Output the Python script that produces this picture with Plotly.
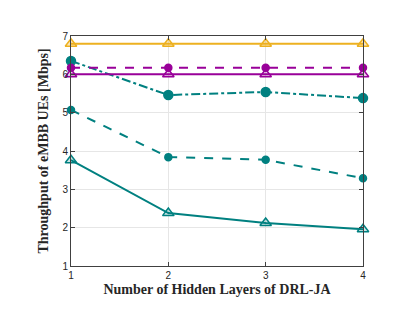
import plotly.graph_objects as go

x = [1, 2, 3, 4]
orange_tri = [6.8, 6.8, 6.8, 6.8]
purple_dot = [6.17, 6.17, 6.17, 6.17]
purple_tri = [6.0, 6.0, 6.0, 6.0]
teal_dashdot = [6.35, 5.46, 5.54, 5.38]
teal_dash = [5.07, 3.84, 3.77, 3.29]
teal_solid = [3.76, 2.38, 2.12, 1.96]

ORANGE = "#EDB120"
PURPLE = "#990099"
TEAL = "#008080"

fig = go.Figure()

def add(y, color, dash, symbol, size, fill, width=2):
    fig.add_trace(go.Scatter(
        x=x, y=y, mode="lines+markers", cliponaxis=False,
        line=dict(color=color, dash=dash, width=width),
        marker=dict(symbol=symbol, size=size, color=fill,
                    line=dict(color=color, width=1.5)),
        showlegend=False))

add(teal_solid, TEAL, "solid", "triangle-up", 10, "rgba(0,128,128,0.2)")
add(teal_dash, TEAL, "dash", "circle", 7, TEAL)
add(teal_dashdot, TEAL, "dashdot", "circle", 9, TEAL, 2)
add(purple_tri, PURPLE, "solid", "triangle-up", 10, "rgba(153,0,153,0.2)")
add(purple_dot, PURPLE, "dash", "circle", 7, PURPLE)
add(orange_tri, ORANGE, "solid", "triangle-up", 10, "rgba(237,177,32,0.3)")

axis_common = dict(
    showgrid=True, gridcolor="#E6E6E6", gridwidth=1,
    showline=True, linecolor="#404040", linewidth=1, mirror="ticks",
    ticks="inside", ticklen=4, tickcolor="#404040",
    tickfont=dict(family="Liberation Sans, Arial", size=10, color="#262626"),
    zeroline=False, automargin=False,
)

fig.update_layout(
    width=412, height=307,
    margin=dict(l=63, r=57, t=28, b=49),
    paper_bgcolor="white", plot_bgcolor="white",
    xaxis=dict(range=[1, 4], tickvals=[1, 2, 3, 4],
               title=dict(text="<b>Number of Hidden Layers of DRL-JA</b>", standoff=4,
                          font=dict(family="Liberation Serif, Times New Roman", size=14, color="#262626")),
               **axis_common),
    yaxis=dict(range=[1, 7], tickvals=[1, 2, 3, 4, 5, 6, 7],
               title=dict(text="<b>Throughput of eMBB UEs [Mbps]</b>", standoff=10,
                          font=dict(family="Liberation Serif, Times New Roman", size=14, color="#262626")),
               **axis_common),
)

fig.write_html("out.html")
